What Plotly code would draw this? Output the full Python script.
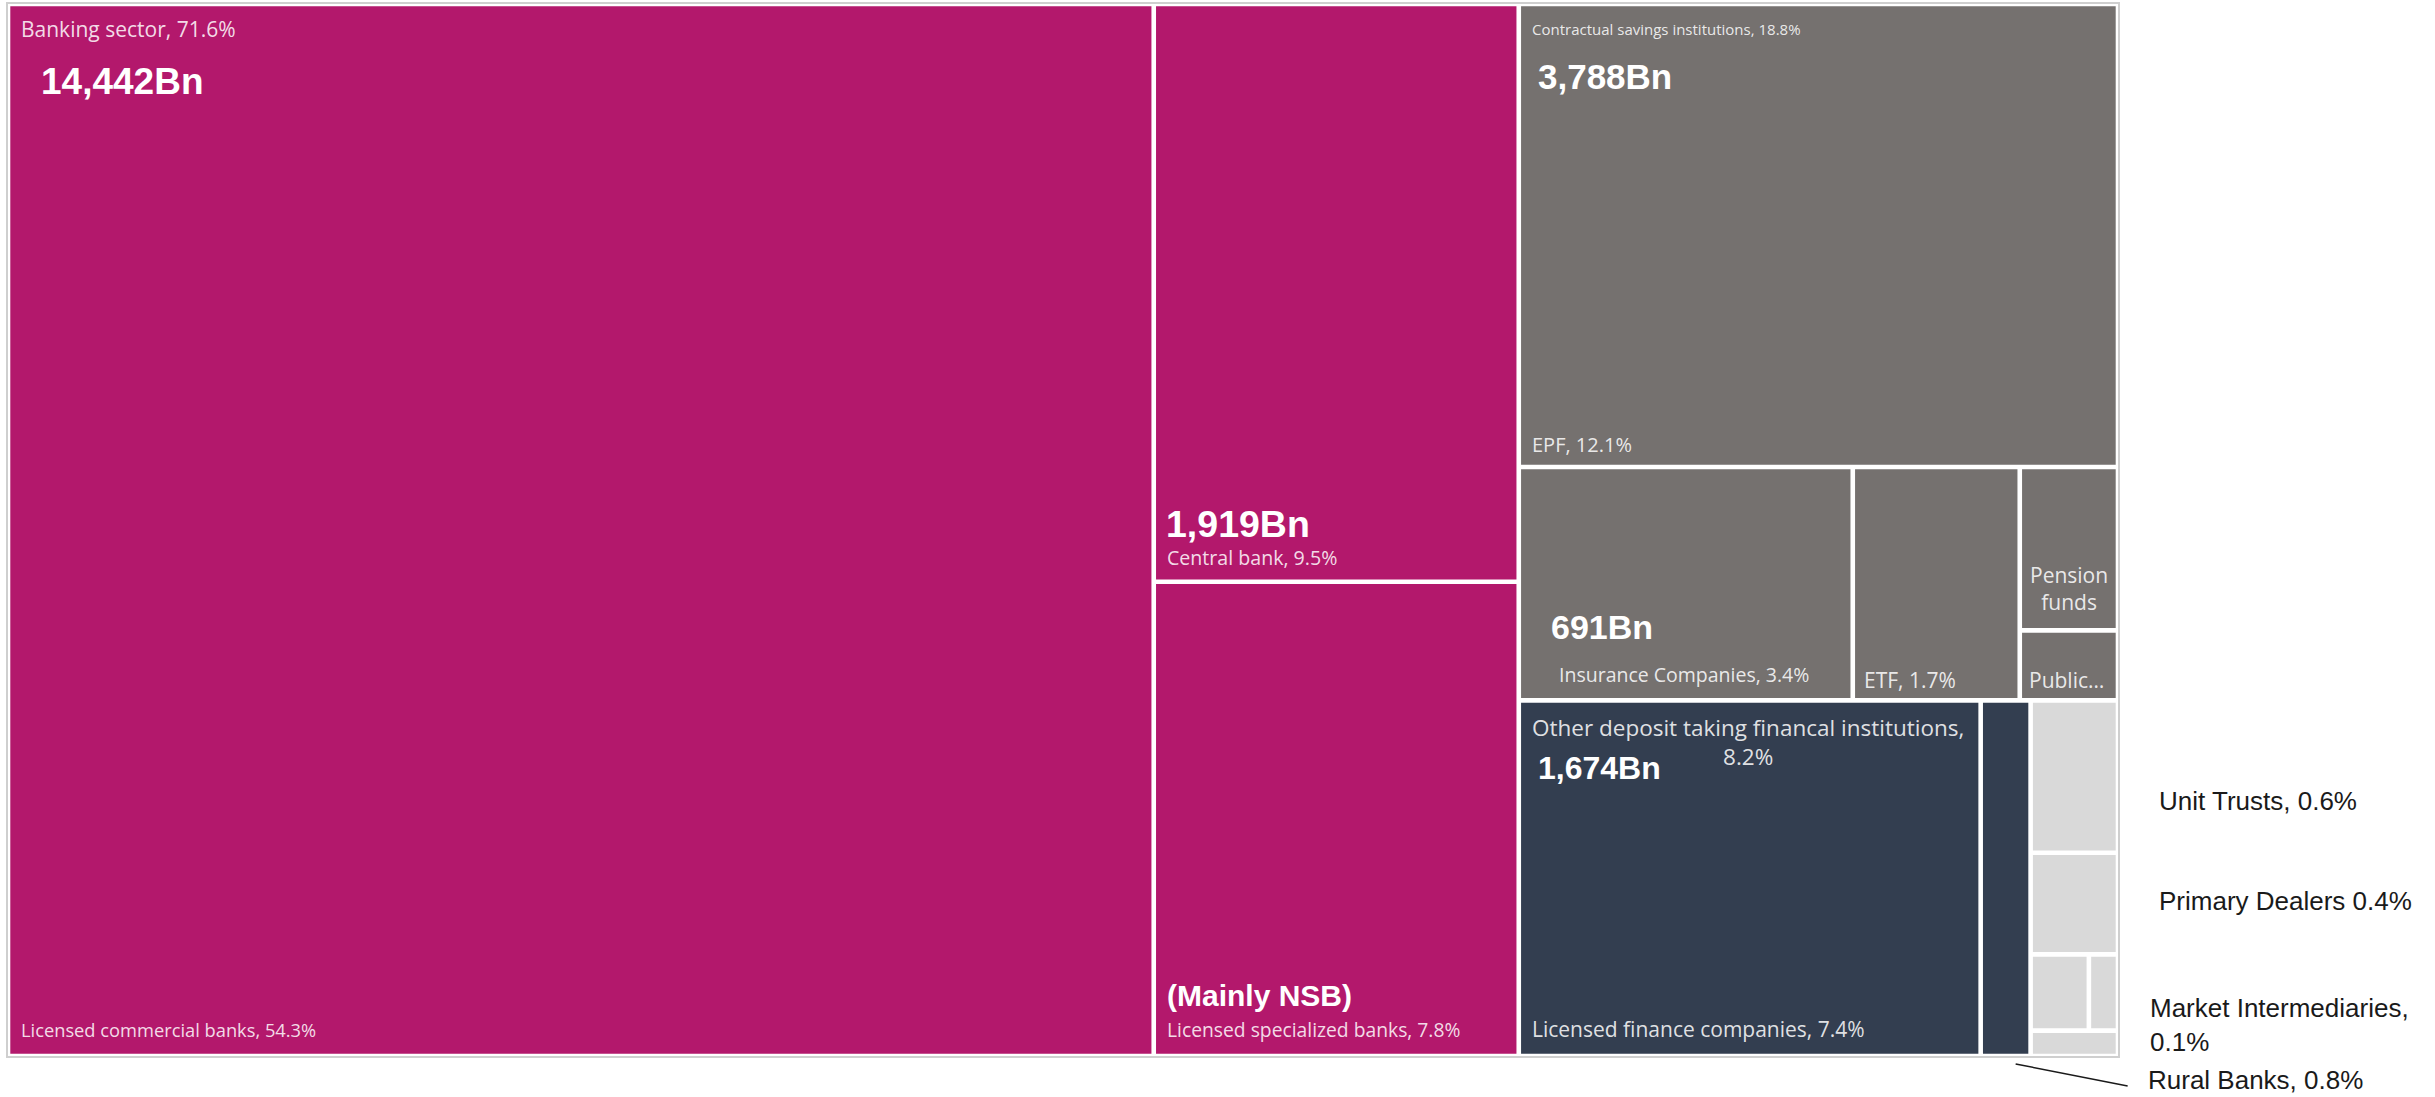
import plotly.graph_objects as go

# ---------------------------------------------------------------------------
# Data: share of total financial-system assets (%) and asset values (Rs. Bn)
# ---------------------------------------------------------------------------
sector_names = [
    "Banking sector",
    "Contractual savings institutions",
    "Other deposit taking financal institutions",
    "Specialised financial institutions",
]
sector_share = [71.6, 18.8, 8.2, 1.4]
sector_assets_bn = [14442, 3788, 1674, None]
sector_colors = ["#B3186C", "#75716F", "#333E50", "#D9D9D9"]

inst_names = [
    "Licensed commercial banks",      # 0
    "Central bank",                   # 1
    "Licensed specialized banks",     # 2
    "EPF",                            # 3
    "Insurance Companies",            # 4
    "ETF",                            # 5
    "Pension funds",                  # 6
    "Public service provident fund",  # 7
    "Licensed finance companies",     # 8
    "Rural Banks",                    # 9
    "Unit Trusts",                    # 10
    "Primary Dealers",                # 11
    "Specialised leasing companies",  # 12
    "Market Intermediaries",          # 13
    "Venture capital companies",      # 14
]
inst_sector = [0, 0, 0, 1, 1, 1, 1, 1, 2, 2, 3, 3, 3, 3, 3]
inst_share = [54.3, 9.5, 7.8, 12.1, 3.4, 1.7, 0.7, 0.3, 7.4, 0.8, 0.6, 0.4, 0.2, 0.1, 0.1]
inst_assets_bn = [None, 1919, None, None, 691, None, None, None,
                  None, None, None, None, None, None, None]

# ---------------------------------------------------------------------------
# Tiling: nested slice/dice groups; "h" = side by side, "v" = stacked
# ---------------------------------------------------------------------------
def G(direction, kids, sector=None):
    return {"dir": direction, "kids": kids, "sector": sector}


tree = G("h", [
    G("h", [0, G("v", [1, 2])], sector=0),
    G("v", [
        G("v", [3, G("h", [4, 5, G("v", [6, 7])])], sector=1),
        G("h", [
            G("h", [8, 9], sector=2),
            G("v", [10, 11, G("h", [12, 13]), 14], sector=3),
        ]),
    ]),
])


def weight(node):
    if isinstance(node, int):
        return inst_share[node]
    if node["sector"] is not None:
        return sector_share[node["sector"]]
    return sum(weight(k) for k in node["kids"])


leaf_rect = {}
sector_rect = {}


def place(node, x0, y0, x1, y1):
    if isinstance(node, int):
        leaf_rect[node] = (x0, y0, x1, y1)
        return
    if node["sector"] is not None:
        sector_rect[node["sector"]] = (x0, y0, x1, y1)
    ws = [weight(k) for k in node["kids"]]
    tot = sum(ws)
    pos = x0 if node["dir"] == "h" else y0
    for kid, w in zip(node["kids"], ws):
        if node["dir"] == "h":
            step = (x1 - x0) * w / tot
            place(kid, pos, y0, pos + step, y1)
        else:
            step = (y1 - y0) * w / tot
            place(kid, x0, pos, x1, pos + step)
        pos += step


W, H = 2435, 1097
TX0, TY0, TX1, TY1 = 8, 4, 2118, 1056
GAP = 2.3
place(tree, TX0, TY0, TX1, TY1)

fig = go.Figure()
shapes = []
annotations = []

# outer frame
shapes.append(dict(type="rect", xref="x", yref="y", x0=TX0 - 1, y0=TY0 - 1,
                   x1=TX1 + 1, y1=TY1 + 1, line=dict(color="#CFCFCF", width=2),
                   fillcolor="white", layer="below"))

# tiles
for i, (x0, y0, x1, y1) in leaf_rect.items():
    shapes.append(dict(type="rect", xref="x", yref="y",
                       x0=x0 + GAP, y0=y0 + GAP, x1=x1 - GAP, y1=y1 - GAP,
                       line=dict(width=0), fillcolor=sector_colors[inst_sector[i]],
                       layer="below"))

SMALL = dict(family="Open Sans, Noto Sans, sans-serif", size=18,
             color="rgba(255,255,255,0.86)")
BIG = dict(family="Liberation Sans, Arial, sans-serif", size=36, color="white")
OUT = dict(family="Liberation Sans, Arial, sans-serif", size=26, color="#1A1A1A")


def txt(x, y, text, font, xanchor="left", yanchor="middle", align="left", size=None):
    f = dict(font)
    if size:
        f["size"] = size
    annotations.append(dict(x=x, y=y, xref="x", yref="y", text=text, showarrow=False,
                            xanchor=xanchor, yanchor=yanchor, align=align, font=f))


def fmt_bn(v):
    return f"<b>{v:,}Bn</b>"


# sector headers and totals
x0, y0, x1, y1 = sector_rect[0]
txt(x0 + 11, y0 + 25, f"{sector_names[0]}, {sector_share[0]}%", SMALL, size=21)
txt(x0 + 31, y0 + 77, fmt_bn(sector_assets_bn[0]), BIG, size=37)

x0, y0, x1, y1 = sector_rect[1]
txt(x0 + 11, y0 + 25, f"{sector_names[1]}, {sector_share[1]}%", SMALL, size=15)
txt(x0 + 17, y0 + 72, fmt_bn(sector_assets_bn[1]), BIG, size=35)

x0, y0, x1, y1 = sector_rect[2]
txt(x0 + 11, y0 + 10, f"{sector_names[2]},<br>{sector_share[2]}%", SMALL,
    yanchor="top", align="center", size=22.5)
txt(x0 + 17, y0 + 68, fmt_bn(sector_assets_bn[2]), BIG, size=32)

# leaf labels (bottom-left)
x0, y0, x1, y1 = leaf_rect[0]
txt(x0 + 11, y1 - 27, f"{inst_names[0]}, {inst_share[0]}%", SMALL, size=18.3)

x0, y0, x1, y1 = leaf_rect[8]
txt(x0 + 11, y1 - 27, f"{inst_names[8]}, {inst_share[8]}%", SMALL, size=21)

x0, y0, x1, y1 = leaf_rect[1]
txt(x0 + 11, y1 - 24, f"{inst_names[1]}, {inst_share[1]}%", SMALL, size=19.6)
txt(x0 + 10, y1 - 58, fmt_bn(inst_assets_bn[1]), BIG, size=37.5)

x0, y0, x1, y1 = leaf_rect[2]
txt(x0 + 11, y1 - 27, f"{inst_names[2]}, {inst_share[2]}%", SMALL, size=19.3)
txt(x0 + 11, y1 - 61, "<b>(Mainly NSB)</b>", BIG, size=30)

x0, y0, x1, y1 = leaf_rect[3]
txt(x0 + 11, y1 - 22, f"{inst_names[3]}, {inst_share[3]}%", SMALL, size=20)

x0, y0, x1, y1 = leaf_rect[4]
txt(x0 + 38, y1 - 26, f"{inst_names[4]}, {inst_share[4]}%", SMALL, size=19.5)
txt(x0 + 30, y1 - 73, fmt_bn(inst_assets_bn[4]), BIG, size=34)

x0, y0, x1, y1 = leaf_rect[5]
txt(x0 + 9, y1 - 20, f"{inst_names[5]}, {inst_share[5]}%", SMALL, size=21)

x0, y0, x1, y1 = leaf_rect[6]
txt((x0 + x1) / 2, y1 - 42, "Pension<br>funds", SMALL, xanchor="center",
    align="center", size=21)

x0, y0, x1, y1 = leaf_rect[7]
txt(x0 + 7, y1 - 20, "Public…", SMALL, size=21)

# labels for the small institutions, placed outside the tiling
LX = TX1 + 39
x0, y0, x1, y1 = leaf_rect[10]
txt(LX, (y0 + y1) / 2 + 24, f"{inst_names[10]}, {inst_share[10]}%", OUT)
x0, y0, x1, y1 = leaf_rect[11]
txt(LX, (y0 + y1) / 2 - 3, f"{inst_names[11]} {inst_share[11]}%", OUT)
x0, y0, x1, y1 = leaf_rect[13]
txt(LX - 9, (y0 + y1) / 2 - 2, f"{inst_names[13]},<br>{inst_share[13]}%", OUT,
    yanchor="top")

# rural banks: leader line from the tile to its label
x0, y0, x1, y1 = leaf_rect[9]
lx0, ly0 = (x0 + x1) / 2 + 10, y1 + 8
lx1, ly1 = lx0 + 112, ly0 + 22
shapes.append(dict(type="line", xref="x", yref="y", x0=lx0, y0=ly0, x1=lx1, y1=ly1,
                   line=dict(color="#1A1A1A", width=1.5)))
txt(lx1 + 18, ly1 - 6, f"{inst_names[9]}, {inst_share[9]}%", OUT)

fig.update_layout(
    width=W, height=H,
    margin=dict(l=0, r=0, t=0, b=0),
    paper_bgcolor="white", plot_bgcolor="white",
    xaxis=dict(range=[0, W], visible=False, fixedrange=True),
    yaxis=dict(range=[H, 0], visible=False, fixedrange=True),
    shapes=shapes, annotations=annotations,
    showlegend=False, hovermode=False,
)

fig.write_html("out.html")
